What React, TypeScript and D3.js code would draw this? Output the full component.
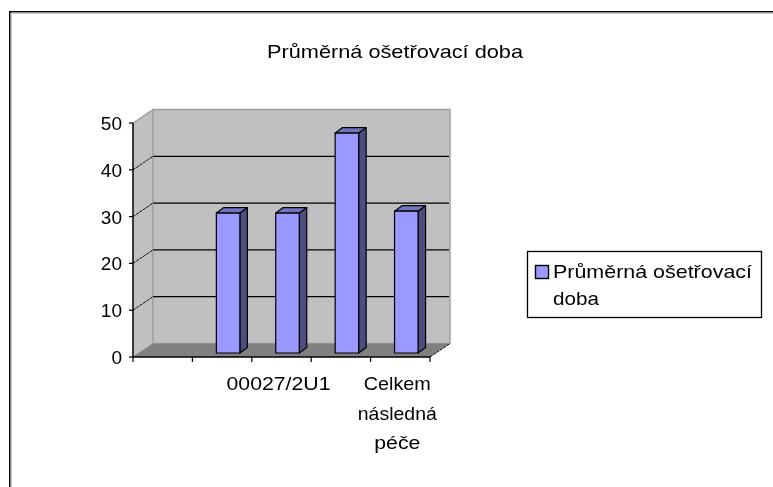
import React from "react";
import * as d3 from "d3";

const chartTitle = "Průměrná ošetřovací doba";
const categories = ["a", "b", "00027/2U1", "d", "Celkem následná péče"];
const categoryLabels: string[][] = [[], [], ["00027/2U1"], [], ["Celkem", "následná", "péče"]];
const seriesValues: (number | null)[] = [null, 29.9, 29.9, 47, 30.3];
const yTicks = [0, 10, 20, 30, 40, 50];
const legendLines = ["Průměrná ošetřovací", "doba"];

const W = 773, H = 487;
const font = "'Liberation Sans', Arial, sans-serif";
const fs = 19;
const dx = 20, dy = -13.5; // wall depth
const bdx = 7.5, bdy = -5.5; // bar depth

const y = d3.scaleLinear().domain([0, 50]).range([357, 123]);
const x = d3.scaleBand<string>().domain(categories).range([133, 430]).paddingInner(0);
const barW = 23.5;
const barOffX = 6; // bar placement into the floor
const barOffY = -4;

// Measured text spans of the bitmap-hinted original font
const labelWidths: Record<string, number> = { "00027/2U1": 104, Celkem: 67, "následná": 79, "péče": 46 };
const legendWidths = [199, 46];
const catLineY = [390, 420, 449];

const poly = (pts: [number, number][]) => d3.line()(pts)! + "Z";

export default function App() {
  const x0 = x.range()[0], x1 = x.range()[1];
  const y0 = y(0), yT = y(50);
  return (
    <svg width={W} height={H} viewBox={`0 0 ${W} ${H}`} style={{ position: "absolute", left: 0, top: 0, background: "#fff", filter: "blur(0.35px)" }} fontFamily={font} fontSize={fs} fill="#000">
      {/* frame */}
      <path d={`M9.8 ${H}V11.8H${W}`} fill="none" stroke="#000" strokeWidth={1.6} />
      <path d={`M11.1 ${H}V13.1H${W}`} fill="none" stroke="#aaa" strokeWidth={1} />

      <text x={267} y={58} textLength={256} lengthAdjust="spacingAndGlyphs">{chartTitle}</text>

      {/* walls */}
      <path d={poly([[x0, yT], [x0 + dx, yT + dy], [x0 + dx, y0 + dy], [x0, y0]])} fill="#c0c0c0" stroke="#999" />
      <path d={poly([[x0 + dx, yT + dy], [x1 + dx, yT + dy], [x1 + dx, y0 + dy], [x0 + dx, y0 + dy]])} fill="#c0c0c0" stroke="#a0a0a0" strokeWidth={1.5} />
      <path d={poly([[x0, y0], [x0 + dx, y0 + dy], [x1 + dx, y0 + dy], [x1, y0]])} fill="#808080" />

      {/* gridlines */}
      {yTicks.slice(1, -1).map((t) => (
        <g key={t} fill="none" stroke="#000">
          <path d={`M${x0 + dx} ${y(t) + dy}H${x1 + dx - 1}`} strokeWidth={1.2} />
          <path d={`M${x0} ${y(t)}L${x0 + dx} ${y(t) + dy}`} strokeWidth={1} strokeDasharray="3 1" />
        </g>
      ))}
      <path d={`M${x0} ${yT}L${x0 + dx} ${yT + dy}`} stroke="#999" />
      <path d={`M${x1} ${y0}L${x1 + dx} ${y0 + dy}`} stroke="#000" strokeDasharray="3 1" fill="none" />

      {/* bars */}
      {categories.map((c, i) => {
        const v = seriesValues[i];
        if (v == null) return null;
        const l = x(c)! + x.bandwidth() / 2 - barW / 2 + barOffX;
        const r = l + barW;
        const b = y(0) + barOffY;
        const t = b - (y(0) - y(v));
        return (
          <g key={c} stroke="#000" strokeWidth={1.2} strokeLinejoin="round">
            <path d={poly([[r, t], [r + bdx, t + bdy], [r + bdx, b + bdy], [r, b]])} fill="#4d4d80" />
            <path d={poly([[l, t], [l + bdx, t + bdy], [r + bdx, t + bdy], [r, t]])} fill="#7373bf" />
            <rect x={l} y={t} width={barW} height={b - t} fill="#9999ff" />
          </g>
        );
      })}

      {/* axes */}
      <path d={`M${x0} ${yT}V${y0}H${x1}`} fill="none" stroke="#000" strokeWidth={1.4} />
      {yTicks.map((t) => (
        <g key={t}>
          <path d={`M${x0 - 4} ${y(t)}H${x0}`} stroke="#000" strokeWidth={1.2} />
          <text x={x0 - 11} y={y(t) + 7} textAnchor="end">{t}</text>
        </g>
      ))}
      {[...categories.map((c) => x(c)!), x1].map((p, i) => (
        <path key={i} d={`M${p} ${y0}v5`} stroke="#000" strokeWidth={1.2} />
      ))}
      {categories.map((c, i) =>
        categoryLabels[i].map((line, j) => (
          <text key={line} x={x(c)! + x.bandwidth() / 2 - 3 - labelWidths[line] / 2} y={catLineY[j]} textLength={labelWidths[line]} lengthAdjust="spacingAndGlyphs">{line}</text>
        ))
      )}

      {/* legend */}
      <rect x={527.5} y={251.5} width={234} height={66} fill="#fff" stroke="#000" strokeWidth={1.3} />
      <rect x={535.5} y={265.5} width={13} height={13} fill="#9999ff" stroke="#000" strokeWidth={1.4} />
      {legendLines.map((line, j) => (
        <text key={j} x={553} y={278 + j * 27} textLength={legendWidths[j]} lengthAdjust="spacingAndGlyphs">{line}</text>
      ))}
    </svg>
  );
}
